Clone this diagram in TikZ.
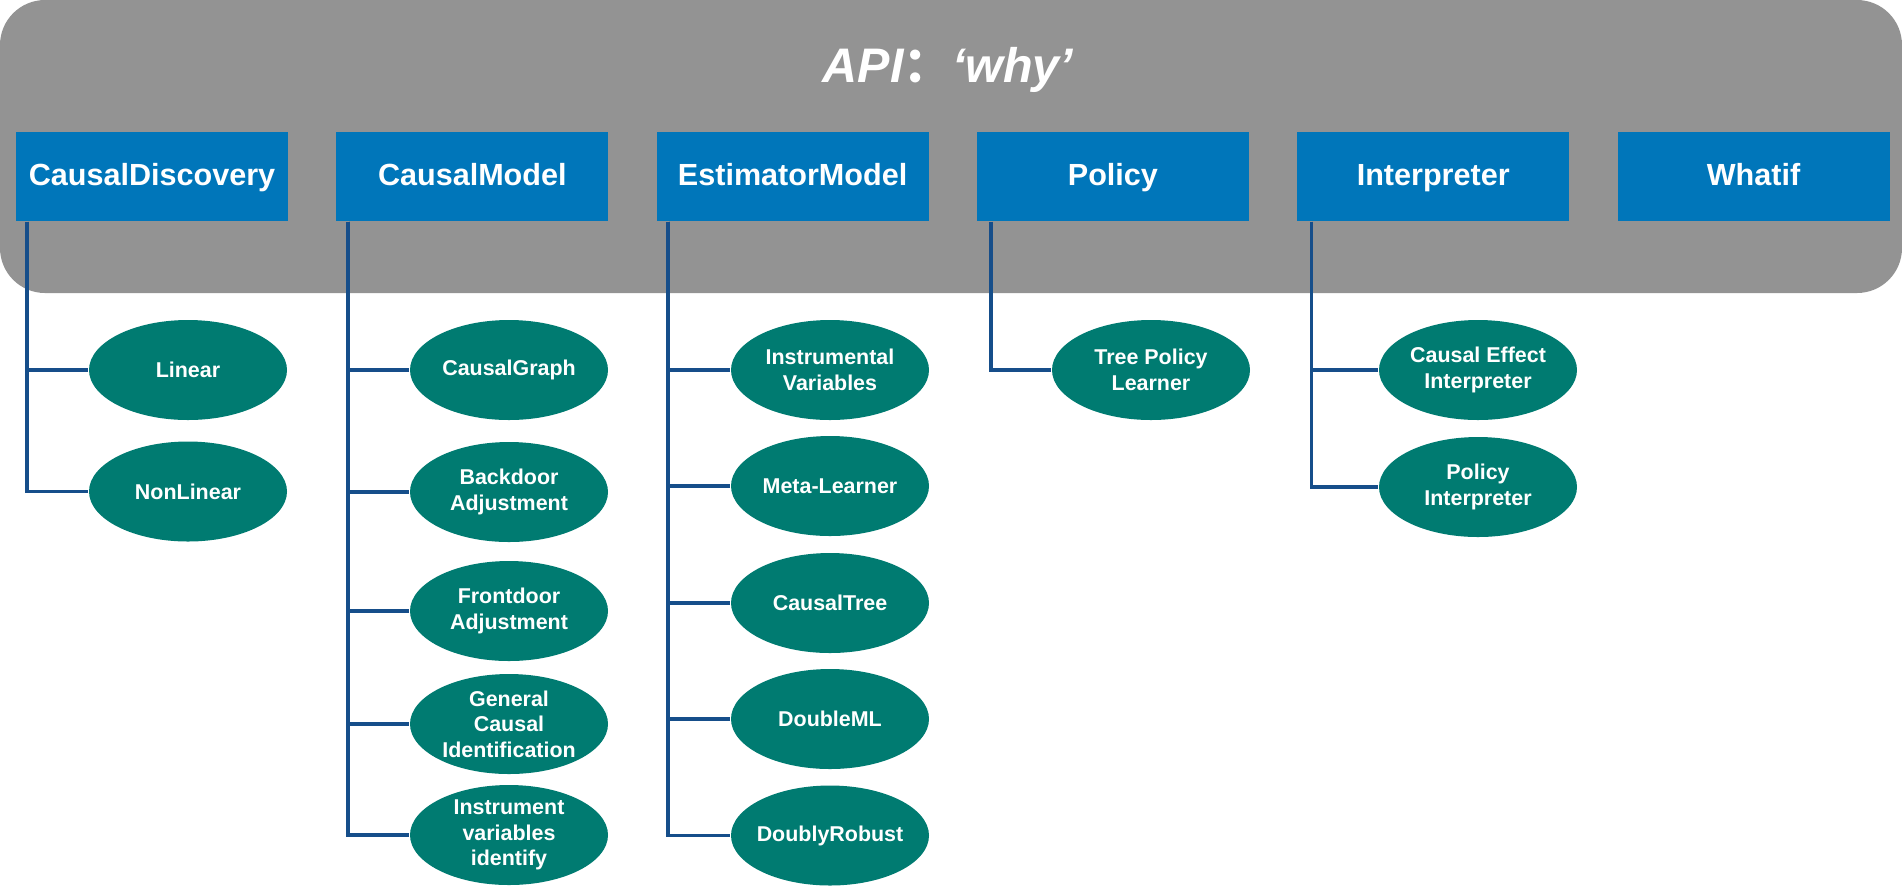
\documentclass[tikz,border=0pt]{standalone}
\usepackage{fontspec}
\setmainfont{Liberation Sans}
\newfontfamily\cjk{Noto Sans CJK SC}
\usepackage{xcolor}
\usepackage{tikz}
\usetikzlibrary{arrows, positioning, calc, shapes.geometric}
\definecolor{apigray}{RGB}{147,147,147}
\definecolor{boxblue}{RGB}{0,118,186}
\definecolor{leafteal}{RGB}{0,123,113}
\definecolor{linkblue}{RGB}{22,78,138}
\tikzset{
node distance=5mm,
vh path/.style={to path={|- (\tikztotarget)}},
box/.style={%
    rectangle,
    minimum width=2.72cm,
    minimum height=0.89cm,
    text height=0.72em,
    text depth=0.21em,
    fill=boxblue,
    text=white,
    % Font
    font=\fontsize{8.7}{10}\selectfont\bfseries
},
leaf/.style={%
    ellipse,
    minimum width=1.98cm,
    minimum height=1cm,
    inner sep=-1mm,
    fill=leafteal,
    text=white,
    align=center,
    % Font
    font=\fontsize{6.1}{7.3}\selectfont\bfseries
},
title/.style={%
    anchor=base, inner sep=0pt, text=white,
    font=\fontsize{13.8}{16}\selectfont\bfseries\itshape
},
branch/.style={draw=linkblue, line width=1.1pt},
}

\begin{document}
\begin{tikzpicture}[-]
	\useasboundingbox (0,0) rectangle (19.02,-8.88);
	\fill[apigray, rounded corners=4.5mm] (0,0) rectangle (19.02,-2.93);
	\node[title] at (9.48,-0.82) (api) {API{\cjk ：}‘why’};

	\node[box] at (1.52,-1.765) (disc) {CausalDiscovery};
	\node[box] at (4.723,-1.765) (model) {CausalModel};
	\node[box] at (7.926,-1.765) (estim) {EstimatorModel};
	\node[box] at (11.129,-1.765) (policy) {Policy};
	\node[box] at (14.332,-1.765) (interp) {Interpreter};
	\node[box] at (17.535,-1.765) (whatif) {Whatif};

	\node[leaf] at (1.88,-3.70) (disc1) {Linear};
	\node[leaf] at (1.88,-4.915) (disc2) {NonLinear};

	\node[leaf] at (5.09,-3.70) (model1) {CausalGraph};
	\node[leaf] at (5.09,-4.92) (model2) {Backdoor\\Adjustment};
	\node[leaf] at (5.09,-6.11) (model3) {Frontdoor\\Adjustment};
	\node[leaf] at (5.09,-7.24) (model4) {General\\Causal\\Identification};
	\node[leaf] at (5.09,-8.35) (model5) {Instrument\\variables\\identify};

	\node[leaf] at (8.30,-3.70) (estim1) {Instrumental\\Variables};
	\node[leaf] at (8.30,-4.86) (estim2) {Meta-Learner};
	\node[leaf] at (8.30,-6.03) (estim3) {CausalTree};
	\node[leaf] at (8.30,-7.19) (estim4) {DoubleML};
	\node[leaf] at (8.30,-8.355) (estim5) {DoublyRobust};

	\node[leaf] at (11.51,-3.70) (policy1) {Tree Policy\\Learner};

	\node[leaf] at (14.78,-3.70) (interp1) {Causal Effect\\Interpreter};
	\node[leaf] at (14.78,-4.87) (interp2) {Policy\\Interpreter};

	\path[branch] ([xshift=1.2mm]disc.south west) edge[vh path] (disc1);
	\path[branch] ([xshift=1.2mm]disc.south west) edge[vh path] (disc2);

	\path[branch] ([xshift=1.2mm]model.south west) edge[vh path] (model1);
	\path[branch] ([xshift=1.2mm]model.south west) edge[vh path] (model2);
	\path[branch] ([xshift=1.2mm]model.south west) edge[vh path] (model3);
	\path[branch] ([xshift=1.2mm]model.south west) edge[vh path] (model4);
	\path[branch] ([xshift=1.2mm]model.south west) edge[vh path] (model5);

	\path[branch] ([xshift=1.2mm]estim.south west) edge[vh path] (estim1);
	\path[branch] ([xshift=1.2mm]estim.south west) edge[vh path] (estim2);
	\path[branch] ([xshift=1.2mm]estim.south west) edge[vh path] (estim3);
	\path[branch] ([xshift=1.2mm]estim.south west) edge[vh path] (estim4);
	\path[branch] ([xshift=1.2mm]estim.south west) edge[vh path] (estim5);

	\path[branch] ([xshift=1.5mm]policy.south west) edge[vh path] (policy1);

	\path[branch] ([xshift=1.5mm]interp.south west) edge[vh path] (interp1);
	\path[branch] ([xshift=1.5mm]interp.south west) edge[vh path] (interp2);
\end{tikzpicture}
\end{document}
